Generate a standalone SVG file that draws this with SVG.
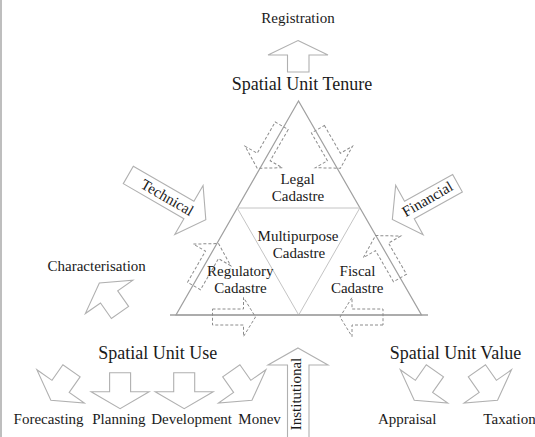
<svg xmlns="http://www.w3.org/2000/svg" width="535" height="437" viewBox="0 0 535 437">
<style>
text{font-family:"Liberation Serif","Times New Roman",serif;fill:#1a1a1a;text-anchor:middle}
.lbl{font-size:15px}
.hd{font-size:18px}
.sol{fill:#fff;stroke:#b0b0b0;stroke-width:1.1;stroke-linejoin:miter}
.dsh{fill:none;stroke:#8c8c8c;stroke-width:1;stroke-dasharray:3 2}
.tri{fill:none;stroke:#a0a0a0;stroke-width:1.2}
.inn{fill:none;stroke:#c4c4c4;stroke-width:1}
</style>
<defs>
<path id="stub" d="M0,-10.5 L19,-10.5 L19,-29 L36,0 L19,29 L19,10.5 L0,10.5 Z"/>
</defs>
<rect width="535" height="437" fill="#fff"/>
<line x1="1" y1="0" x2="1" y2="437" stroke="#a8a8a8" stroke-width="1.5"/>

<g id="triangle">
<path class="tri" d="M298.5,101 L176,315 L421.5,315 Z"/>
<path class="inn" d="M237.2,208 L359.8,208 L298.7,315 Z"/>
<line x1="170" y1="315" x2="428" y2="315" stroke="#a0a0a0" stroke-width="1.4"/>
</g>

<g id="connectors">
<path class="dsh" d="M0,-7.5 L36,-7.5 L36,-21.5 L49,0 L36,21.5 L36,7.5 L0,7.5 Z" transform="translate(281.7,125.8) rotate(120)"/>
<path class="dsh" d="M4,-7.5 L36,-7.5 L36,-21.5 L49,0 L36,21.5 L36,7.5 L4,7.5 Z" transform="translate(315.9,125.8) rotate(60)"/>
<path class="dsh" d="M0,-7.5 L36,-7.5 L36,-21.5 L49,0 L36,21.5 L36,7.5 L0,7.5 Z" transform="translate(194,286) rotate(-60)"/>
<path class="dsh" d="M0,-7.5 L36,-7.5 L36,-21.5 L49,0 L36,21.5 L36,7.5 L0,7.5 Z" transform="translate(400,278) rotate(-120)"/>
<path class="dsh" d="M0,-8 L31,-8 L31,-19.5 L43,0 L31,19.5 L31,8 L0,8 Z" transform="translate(212.5,317)"/>
<path class="dsh" d="M0,-8 L31,-8 L31,-19.5 L43,0 L31,19.5 L31,8 L0,8 Z" transform="translate(383,317) rotate(180)"/>
<path class="sol" d="M298,40.5 L328,55 L309,55 L309,72 L287.5,72 L287.5,55 L268,55 Z"/>
<path class="sol" d="M298,348 L328,365 L309,365 L309,440 L287.5,440 L287.5,365 L268,365 Z"/>
<path class="sol" d="M0,-10 L70,-10 L70,-28.3 L89.5,0 L70,28.3 L70,10 L0,10 Z" transform="translate(128.3,175) rotate(30)"/>
<path class="sol" d="M0,-10 L55,-10 L55,-28.3 L74.5,0 L55,28.3 L55,10 L0,10 Z" transform="translate(457.5,183.3) rotate(151)"/>
<use href="#stub" class="sol" transform="translate(120,312.5) rotate(235)"/>
<use href="#stub" class="sol" transform="translate(71.5,370.8) rotate(125)"/>
<use href="#stub" class="sol" transform="translate(120.1,372.7) rotate(90)"/>
<use href="#stub" class="sol" transform="translate(184.2,372.7) rotate(90)"/>
<use href="#stub" class="sol" transform="translate(231.3,370.8) rotate(55)"/>
<use href="#stub" class="sol" transform="translate(434.9,370.8) rotate(125)"/>
<use href="#stub" class="sol" transform="translate(476.9,370.8) rotate(55)"/>
</g>

<g id="registration"><text class="lbl" x="298" y="23">Registration</text></g>
<g id="tenure"><text class="hd" x="302" y="90">Spatial Unit Tenure</text></g>
<g id="legal"><text class="lbl" x="297.5" y="183.5">Legal</text><text class="lbl" x="298" y="200.5">Cadastre</text></g>
<g id="multipurpose"><text class="lbl" x="298" y="240.5">Multipurpose</text><text class="lbl" x="299" y="257.5">Cadastre</text></g>
<g id="regulatory"><text class="lbl" x="240.3" y="275.8">Regulatory</text><text class="lbl" x="240.5" y="292.8">Cadastre</text></g>
<g id="fiscal"><text class="lbl" x="357.5" y="275.8">Fiscal</text><text class="lbl" x="357.2" y="292.8">Cadastre</text></g>
<g id="technical"><text class="lbl" x="167.3" y="202.5" transform="rotate(30,167.3,197.5)">Technical</text></g>
<g id="financial"><text class="lbl" x="427.5" y="204" transform="rotate(-30,427.5,199)">Financial</text></g>
<g id="characterisation"><text class="lbl" x="96.7" y="270.6">Characterisation</text></g>
<g id="use"><text class="hd" x="157.8" y="358.5">Spatial Unit Use</text></g>
<g id="value"><text class="hd" x="455.5" y="358.5">Spatial Unit Value</text></g>
<g id="institutional"><text class="lbl" x="296" y="399" transform="rotate(-90,296,394)">Institutional</text></g>
<g id="forecasting"><text class="lbl" x="48.6" y="424">Forecasting</text></g>
<g id="planning"><text class="lbl" x="118.9" y="424">Planning</text></g>
<g id="development"><text class="lbl" x="191.6" y="424">Development</text></g>
<g id="monev"><text class="lbl" x="259.6" y="424">Monev</text></g>
<g id="appraisal"><text class="lbl" x="407.2" y="424">Appraisal</text></g>
<g id="taxation"><text class="lbl" x="509.5" y="424">Taxation</text></g>
</svg>
